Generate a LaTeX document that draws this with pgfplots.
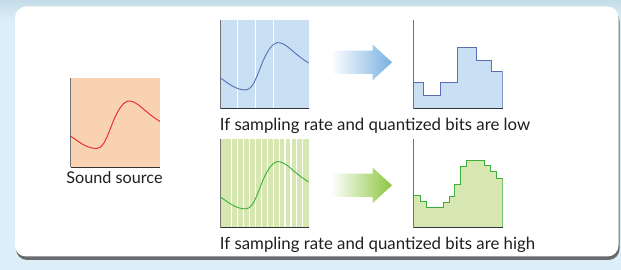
\documentclass[border=0pt]{standalone}
\usepackage{pgfplots}
\pgfplotsset{compat=1.18}
\usepackage{pgfplotstable}
\usepackage{fontspec}
\setmainfont{Lato}
\usetikzlibrary{shadows}
\definecolor{bgblue}{HTML}{DCEEF8}
\definecolor{bgtop}{HTML}{C4DCE8}
\definecolor{peach}{HTML}{F9D1B3}
\definecolor{srcred}{HTML}{E8262B}
\definecolor{lblue}{HTML}{C8DFF4}
\definecolor{dblue}{HTML}{5B6DB5}
\definecolor{lgreen}{HTML}{D6E7B1}
\definecolor{dgreen}{HTML}{3DAE3A}
\definecolor{arrblue}{HTML}{78B1E2}
\definecolor{arrgreen}{HTML}{8CC63F}

\pgfplotstableread{
x y
0 0.35
0.05 0.315
0.10 0.28
0.15 0.25
0.20 0.228
0.25 0.215
0.29 0.212
0.33 0.225
0.37 0.27
0.41 0.35
0.45 0.45
0.49 0.55
0.53 0.63
0.57 0.69
0.61 0.73
0.645 0.745
0.70 0.735
0.76 0.70
0.82 0.65
0.88 0.60
0.94 0.555
1.0 0.515
}\curve

\pgfplotstableread{
x y
0 0.293
0.112 0.15
0.306 0.293
0.494 0.69
0.704 0.54
0.88 0.42
1 0.42
}\lowq

\pgfplotstableread{
x y
0 0.364
0.08 0.30
0.147 0.229
0.333 0.29
0.4 0.357
0.462 0.49
0.533 0.696
0.59 0.763
0.797 0.70
0.865 0.635
0.933 0.556
1 0.556
}\highq

\pgfplotsset{
  every axis/.append style={
    scale only axis, width=88.7pt, height=88.7pt,
    xmin=0, xmax=1, ymin=0, ymax=1,
    axis lines=left, axis line style={-},
    x axis line style={draw=black!80, line width=1.1pt},
    y axis line style={draw=black!55, line width=0.9pt},
    xtick=\empty, ytick=\empty, major tick length=0pt,
    xticklabels={}, yticklabels={},
    grid style={white, line width=1.1pt},
  }
}

\begin{document}
\begin{tikzpicture}
\path[use as bounding box] (0,0) rectangle (621pt,270pt);
\fill[bgblue] (0,0) rectangle (621pt,270pt);
\shade[top color=bgtop, bottom color=bgblue] (0,250pt) rectangle (621pt,270pt);
\fill[white, rounded corners=11pt, drop shadow={shadow xshift=1pt, shadow yshift=-3.5pt, opacity=0.75, fill=black!75}] (15pt,13.5pt) rectangle (618.5pt,263.5pt);

% arrows
\shade[left color=white, right color=arrblue]
  (331pt,219.3pt) -- (372.7pt,219.3pt) -- (372.7pt,225.3pt) -- (392pt,207.7pt) -- (372.7pt,190pt) -- (372.7pt,196pt) -- (331pt,196pt) -- cycle;
\shade[left color=white, right color=arrgreen]
  (331pt,96.3pt) -- (372.7pt,96.3pt) -- (372.7pt,102.3pt) -- (392pt,84.7pt) -- (372.7pt,67pt) -- (372.7pt,73pt) -- (331pt,73pt) -- cycle;

% sound source
\begin{axis}[at={(70.7pt,102.7pt)}, anchor=south west, width=89.3pt, height=89pt,
  axis background/.style={fill=peach}]
\addplot[srcred, line width=0.9pt, smooth] table[x=x,y=y] {\curve};
\end{axis}

% low sampling
\begin{axis}[at={(220pt,161.3pt)}, anchor=south west,
  axis background/.style={fill=lblue}, xtick={0.2,0.4,0.6}, xmajorgrids]
\addplot[dblue, line width=0.9pt, smooth] table[x=x,y=y] {\curve};
\end{axis}

% low quantized
\begin{axis}[at={(413.5pt,161.3pt)}, anchor=south west, width=89pt, axis on top]
\addplot[const plot, fill=lblue, draw=dblue, line width=0.9pt] table[x=x,y=y] {\lowq} \closedcycle;
\end{axis}

% high sampling
\begin{axis}[at={(220pt,42.3pt)}, anchor=south west,
  axis background/.style={fill=lgreen},
  xtick={0.1333,0.2,0.2667,0.3333,0.4,0.4667,0.5333,0.6,0.6667,0.7333,0.8,0.8667,0.9333}, xmajorgrids]
\addplot[dgreen, line width=0.9pt, smooth] table[x=x,y=y] {\curve};
\end{axis}

% high quantized
\begin{axis}[at={(413.5pt,42.3pt)}, anchor=south west, width=89pt, axis on top]
\addplot[const plot, fill=lgreen, draw=dgreen, line width=0.9pt] table[x=x,y=y] {\highq} \closedcycle;
\end{axis}

\node[anchor=base west, inner sep=0pt, text=black!88, font=\fontsize{16.8}{20}\selectfont] at (219.7pt,139.3pt) {If sampling rate and quantized bits are low};
\node[anchor=base west, inner sep=0pt, text=black!88, font=\fontsize{16.8}{20}\selectfont] at (219.7pt,20pt) {If sampling rate and quantized bits are high};
\node[anchor=base, inner sep=0pt, text=black!88, font=\fontsize{16.2}{20}\selectfont] at (114.5pt,86pt) {Sound source};
\end{tikzpicture}
\end{document}
